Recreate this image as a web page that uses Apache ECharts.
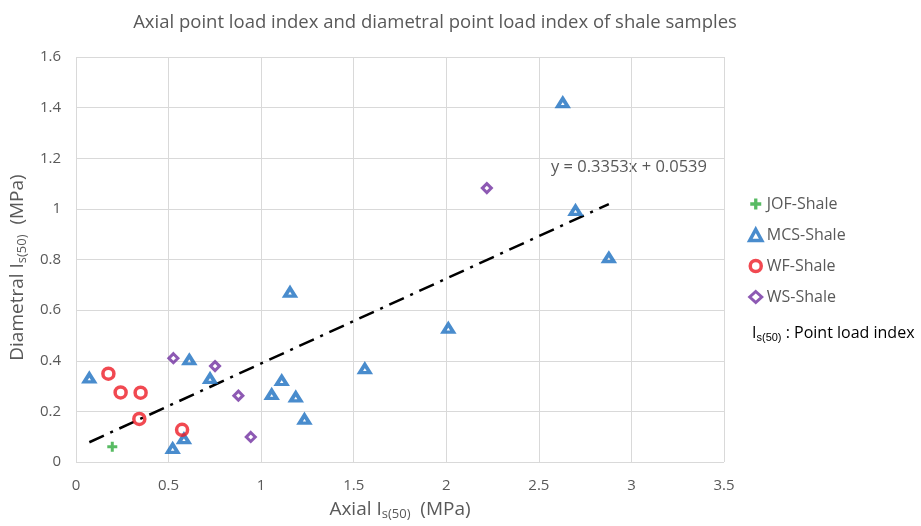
<!DOCTYPE html>
<html>
<head>
<meta charset="utf-8">
<script src="https://cdn.jsdelivr.net/npm/echarts@6/dist/echarts.min.js"></script>
<style>
  html, body { margin: 0; padding: 0; background: #fff; }
  #main { width: 921px; height: 526px; }
</style>
</head>
<body>
<div id="main"></div>
<script>
// values: [Axial Is(50), Diametral Is(50)] in MPa
var jofShale = [[0.196, 0.060]];
var mcsShale = [
    [0.072, 0.332], [0.612, 0.404], [0.724, 0.330], [0.522, 0.054], [0.583, 0.092],
    [1.057, 0.267], [1.111, 0.322], [1.187, 0.257], [1.234, 0.169], [1.156, 0.671],
    [1.560, 0.369], [2.011, 0.529], [2.629, 1.420], [2.698, 0.994], [2.878, 0.807]
];
var wfShale = [[0.175, 0.349], [0.241, 0.275], [0.349, 0.274], [0.342, 0.170], [0.573, 0.127]];
var wsShale = [[0.526, 0.410], [0.751, 0.379], [0.877, 0.262], [0.944, 0.099], [2.219, 1.082]];

// linear trend shown on the chart: y = 0.3353x + 0.0539, over the data's x range
var trendSlope = 0.3353;
var trendIntercept = 0.0539;
var trendRange = [0.072, 2.878];

var xTicks = { min: 0, max: 3.5, interval: 0.5 };
var yTicks = { min: 0, max: 1.6, interval: 0.2 };

var plusPath = 'path://M3.5,0H6.5V3.5H10V6.5H6.5V10H3.5V6.5H0V3.5H3.5Z';
var font = 'Open Sans';
var grey = '#595959';

var trendData = trendRange.map(function (x) { return [x, trendSlope * x + trendIntercept]; });

var subStyle = { fontSize: 13, color: grey, verticalAlign: 'bottom', padding: [9, 0, 0, 0] };

var chart = echarts.init(document.getElementById('main'));
chart.setOption({
    animation: false,
    textStyle: { fontFamily: font },
    title: {
        text: 'Axial point load index and diametral point load index of shale samples',
        left: 430, top: 8, textAlign: 'center',
        textStyle: { fontFamily: font, fontSize: 18.5, fontWeight: 'normal', color: grey }
    },
    grid: { left: 76, right: 197, top: 57, bottom: 58, containLabel: false },
    legend: {
        orient: 'vertical', left: 748, top: 196, padding: 0,
        itemWidth: 12, itemHeight: 11, itemGap: 15,
        textStyle: { fontFamily: font, fontSize: 16, color: grey },
        data: [
            { name: 'JOF-Shale', icon: plusPath },
            { name: 'MCS-Shale', icon: 'triangle', itemStyle: { borderWidth: 3.5 } },
            { name: 'WF-Shale', icon: 'circle', itemStyle: { borderWidth: 3.5 } },
            { name: 'WS-Shale', icon: 'diamond', itemStyle: { borderWidth: 3 } }
        ]
    },
    xAxis: {
        type: 'value', min: xTicks.min, max: xTicks.max, interval: xTicks.interval,
        axisLine: { show: false }, axisTick: { show: false },
        splitLine: { lineStyle: { color: '#d9d9d9', width: 1 } },
        axisLabel: { fontSize: 15, color: grey, margin: 16 },
        name: 'Axial I{sub|s(50)}  (MPa)', nameLocation: 'middle', nameGap: 37,
        nameTextStyle: { fontSize: 19, color: grey, rich: { sub: subStyle } }
    },
    yAxis: {
        type: 'value', min: yTicks.min, max: yTicks.max, interval: yTicks.interval,
        axisLine: { show: false }, axisTick: { show: false },
        splitLine: { lineStyle: { color: '#d9d9d9', width: 1 } },
        axisLabel: { fontSize: 15, color: grey, margin: 15 },
        name: 'Diametral I{sub|s(50)}  (MPa)', nameLocation: 'middle', nameGap: 45, nameRotate: 90,
        nameTextStyle: { fontSize: 19, color: grey, padding: [0, 16, 0, 0], rich: { sub: subStyle } }
    },
    graphic: [
        {
            type: 'text', left: 551, top: 159,
            style: { text: 'y = 0.3353x + 0.0539', font: '16.5px "Open Sans"', fill: grey }
        },
        {
            type: 'text', left: 752, top: 325,
            style: {
                text: 'I{sub|s(50)} : Point load index',
                font: '16px "Open Sans"', fill: '#000',
                rich: { sub: { fontSize: 11, fill: '#000', verticalAlign: 'bottom', padding: [9, 0, 0, 0] } }
            }
        }
    ],
    series: [
        {
            name: 'trend', type: 'line', data: trendData, symbol: 'none', silent: true, z: 1,
            lineStyle: { color: '#000', width: 2.5, type: [16, 7, 3, 7] }
        },
        {
            name: 'JOF-Shale', type: 'scatter', data: jofShale, symbol: plusPath, symbolSize: 10, z: 3,
            itemStyle: { color: '#2eaa3c' }
        },
        {
            name: 'MCS-Shale', type: 'scatter', data: mcsShale, symbol: 'triangle', symbolSize: [10, 8], z: 3,
            itemStyle: { color: 'transparent', borderColor: '#1b6fc1', borderWidth: 3.6 }
        },
        {
            name: 'WF-Shale', type: 'scatter', data: wfShale, symbol: 'circle', symbolSize: 11, z: 3,
            itemStyle: { color: 'transparent', borderColor: '#ee1c25', borderWidth: 3.5 }
        },
        {
            name: 'WS-Shale', type: 'scatter', data: wsShale, symbol: 'diamond', symbolSize: 9, z: 3,
            itemStyle: { color: 'transparent', borderColor: '#7030a0', borderWidth: 3 }
        }
    ]
});
</script>
</body>
</html>
